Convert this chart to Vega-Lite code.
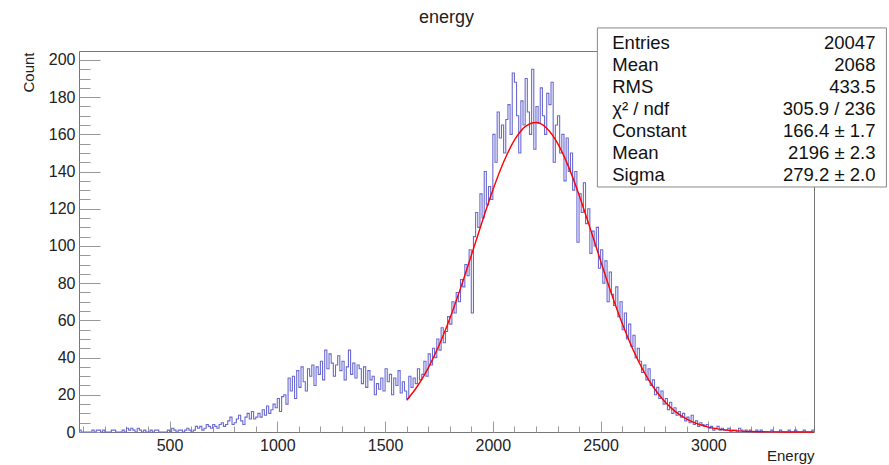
{
  "$schema": "https://vega.github.io/schema/vega-lite/v6.json",
  "width": 735,
  "height": 381,
  "autosize": {"type": "none"},
  "padding": {"left": 79, "top": 51, "right": 75, "bottom": 33},
  "background": "white",
  "title": {"text": "energy", "fontSize": 18, "font": "Liberation Sans", "fontWeight": "normal", "color": "#222", "anchor": "middle", "offset": 0},
  "datasets": {
    "hist": [
      {"e":80,"n":1},{"e":90,"n":0},{"e":100,"n":0},{"e":110,"n":0},{"e":120,"n":0},{"e":130,"n":0},{"e":140,"n":1},{"e":150,"n":0},{"e":160,"n":1},{"e":170,"n":1},
      {"e":180,"n":0},{"e":190,"n":1},{"e":200,"n":0},{"e":210,"n":0},{"e":220,"n":0},{"e":230,"n":1},{"e":240,"n":1},{"e":250,"n":0},{"e":260,"n":0},{"e":270,"n":0},
      {"e":280,"n":1},{"e":290,"n":0},{"e":300,"n":2},{"e":310,"n":1},{"e":320,"n":2},{"e":330,"n":1},{"e":340,"n":0},{"e":350,"n":2},{"e":360,"n":1},{"e":370,"n":0},
      {"e":380,"n":1},{"e":390,"n":0},{"e":400,"n":0},{"e":410,"n":1},{"e":420,"n":0},{"e":430,"n":1},{"e":440,"n":1},{"e":450,"n":0},{"e":460,"n":0},{"e":470,"n":0},
      {"e":480,"n":0},{"e":490,"n":1},{"e":500,"n":0},{"e":510,"n":2},{"e":520,"n":1},{"e":530,"n":0},{"e":540,"n":1},{"e":550,"n":1},{"e":560,"n":0},{"e":570,"n":1},
      {"e":580,"n":2},{"e":590,"n":1},{"e":600,"n":0},{"e":610,"n":1},{"e":620,"n":3},{"e":630,"n":2},{"e":640,"n":3},{"e":650,"n":1},{"e":660,"n":2},{"e":670,"n":4},
      {"e":680,"n":3},{"e":690,"n":2},{"e":700,"n":4},{"e":710,"n":3},{"e":720,"n":2},{"e":730,"n":4},{"e":740,"n":5},{"e":750,"n":3},{"e":760,"n":4},{"e":770,"n":6},
      {"e":780,"n":8},{"e":790,"n":4},{"e":800,"n":5},{"e":810,"n":7},{"e":820,"n":9},{"e":830,"n":6},{"e":840,"n":4},{"e":850,"n":8},{"e":860,"n":10},{"e":870,"n":7},
      {"e":880,"n":11},{"e":890,"n":7},{"e":900,"n":8},{"e":910,"n":10},{"e":920,"n":8},{"e":930,"n":12},{"e":940,"n":9},{"e":950,"n":14},{"e":960,"n":10},{"e":970,"n":12},
      {"e":980,"n":15},{"e":990,"n":13},{"e":1000,"n":18},{"e":1010,"n":11},{"e":1020,"n":19},{"e":1030,"n":20},{"e":1040,"n":15},{"e":1050,"n":29},{"e":1060,"n":22},{"e":1070,"n":30},
      {"e":1080,"n":18},{"e":1090,"n":33},{"e":1100,"n":24},{"e":1110,"n":35},{"e":1120,"n":27},{"e":1130,"n":22},{"e":1140,"n":34},{"e":1150,"n":30},{"e":1160,"n":36},{"e":1170,"n":25},
      {"e":1180,"n":35},{"e":1190,"n":31},{"e":1200,"n":38},{"e":1210,"n":28},{"e":1220,"n":44},{"e":1230,"n":34},{"e":1240,"n":42},{"e":1250,"n":37},{"e":1260,"n":30},{"e":1270,"n":36},
      {"e":1280,"n":41},{"e":1290,"n":33},{"e":1300,"n":38},{"e":1310,"n":28},{"e":1320,"n":35},{"e":1330,"n":44},{"e":1340,"n":31},{"e":1350,"n":37},{"e":1360,"n":29},{"e":1370,"n":36},
      {"e":1380,"n":34},{"e":1390,"n":26},{"e":1400,"n":35},{"e":1410,"n":24},{"e":1420,"n":33},{"e":1430,"n":28},{"e":1440,"n":30},{"e":1450,"n":20},{"e":1460,"n":26},{"e":1470,"n":23},
      {"e":1480,"n":29},{"e":1490,"n":22},{"e":1500,"n":34},{"e":1510,"n":27},{"e":1520,"n":31},{"e":1530,"n":20},{"e":1540,"n":29},{"e":1550,"n":25},{"e":1560,"n":33},{"e":1570,"n":21},
      {"e":1580,"n":27},{"e":1590,"n":22},{"e":1600,"n":18},{"e":1610,"n":30},{"e":1620,"n":24},{"e":1630,"n":29},{"e":1640,"n":26},{"e":1650,"n":34},{"e":1660,"n":28},{"e":1670,"n":31},
      {"e":1680,"n":38},{"e":1690,"n":30},{"e":1700,"n":42},{"e":1710,"n":36},{"e":1720,"n":45},{"e":1730,"n":40},{"e":1740,"n":50},{"e":1750,"n":44},{"e":1760,"n":56},{"e":1770,"n":48},
      {"e":1780,"n":54},{"e":1790,"n":62},{"e":1800,"n":58},{"e":1810,"n":70},{"e":1820,"n":64},{"e":1830,"n":75},{"e":1840,"n":70},{"e":1850,"n":82},{"e":1860,"n":78},{"e":1870,"n":90},
      {"e":1880,"n":84},{"e":1890,"n":98},{"e":1900,"n":64},{"e":1910,"n":105},{"e":1920,"n":118},{"e":1930,"n":110},{"e":1940,"n":128},{"e":1950,"n":115},{"e":1960,"n":140},{"e":1970,"n":122},
      {"e":1980,"n":132},{"e":1990,"n":125},{"e":2000,"n":160},{"e":2010,"n":145},{"e":2020,"n":172},{"e":2030,"n":158},{"e":2040,"n":165},{"e":2050,"n":150},{"e":2060,"n":168},{"e":2070,"n":176},
      {"e":2080,"n":160},{"e":2090,"n":193},{"e":2100,"n":188},{"e":2110,"n":170},{"e":2120,"n":150},{"e":2130,"n":178},{"e":2140,"n":165},{"e":2150,"n":190},{"e":2160,"n":172},{"e":2170,"n":160},
      {"e":2180,"n":195},{"e":2190,"n":152},{"e":2200,"n":175},{"e":2210,"n":166},{"e":2220,"n":185},{"e":2230,"n":170},{"e":2240,"n":160},{"e":2250,"n":182},{"e":2260,"n":176},{"e":2270,"n":188},
      {"e":2280,"n":145},{"e":2290,"n":165},{"e":2300,"n":170},{"e":2310,"n":150},{"e":2320,"n":160},{"e":2330,"n":135},{"e":2340,"n":158},{"e":2350,"n":140},{"e":2360,"n":150},{"e":2370,"n":130},
      {"e":2380,"n":140},{"e":2390,"n":102},{"e":2400,"n":128},{"e":2410,"n":118},{"e":2420,"n":134},{"e":2430,"n":112},{"e":2440,"n":120},{"e":2450,"n":96},{"e":2460,"n":108},{"e":2470,"n":100},
      {"e":2480,"n":110},{"e":2490,"n":88},{"e":2500,"n":98},{"e":2510,"n":80},{"e":2520,"n":92},{"e":2530,"n":70},{"e":2540,"n":86},{"e":2550,"n":74},{"e":2560,"n":68},{"e":2570,"n":78},
      {"e":2580,"n":62},{"e":2590,"n":70},{"e":2600,"n":55},{"e":2610,"n":64},{"e":2620,"n":50},{"e":2630,"n":58},{"e":2640,"n":46},{"e":2650,"n":52},{"e":2660,"n":40},{"e":2670,"n":45},
      {"e":2680,"n":38},{"e":2690,"n":32},{"e":2700,"n":36},{"e":2710,"n":28},{"e":2720,"n":34},{"e":2730,"n":25},{"e":2740,"n":28},{"e":2750,"n":20},{"e":2760,"n":24},{"e":2770,"n":18},
      {"e":2780,"n":22},{"e":2790,"n":15},{"e":2800,"n":18},{"e":2810,"n":12},{"e":2820,"n":16},{"e":2830,"n":10},{"e":2840,"n":13},{"e":2850,"n":9},{"e":2860,"n":11},{"e":2870,"n":8},
      {"e":2880,"n":10},{"e":2890,"n":6},{"e":2900,"n":8},{"e":2910,"n":5},{"e":2920,"n":9},{"e":2930,"n":4},{"e":2940,"n":6},{"e":2950,"n":3},{"e":2960,"n":5},{"e":2970,"n":4},
      {"e":2980,"n":3},{"e":2990,"n":4},{"e":3000,"n":2},{"e":3010,"n":3},{"e":3020,"n":1},{"e":3030,"n":2},{"e":3040,"n":3},{"e":3050,"n":1},{"e":3060,"n":2},{"e":3070,"n":1},
      {"e":3080,"n":1},{"e":3090,"n":2},{"e":3100,"n":0},{"e":3110,"n":1},{"e":3120,"n":1},{"e":3130,"n":0},{"e":3140,"n":2},{"e":3150,"n":1},{"e":3160,"n":0},{"e":3170,"n":1},
      {"e":3180,"n":0},{"e":3190,"n":1},{"e":3200,"n":0},{"e":3210,"n":0},{"e":3220,"n":1},{"e":3230,"n":0},{"e":3240,"n":1},{"e":3250,"n":0},{"e":3260,"n":0},{"e":3270,"n":0},
      {"e":3280,"n":0},{"e":3290,"n":1},{"e":3300,"n":0},{"e":3310,"n":0},{"e":3320,"n":0},{"e":3330,"n":1},{"e":3340,"n":0},{"e":3350,"n":0},{"e":3360,"n":0},{"e":3370,"n":1},
      {"e":3380,"n":0},{"e":3390,"n":0},{"e":3400,"n":1},{"e":3410,"n":0},{"e":3420,"n":0},{"e":3430,"n":0},{"e":3440,"n":1},{"e":3450,"n":0},{"e":3460,"n":0},{"e":3470,"n":0},
      {"e":3480,"n":1},{"e":3490,"n":1}
    ],
    "fit": [
      {"e":1600,"f":17.05},{"e":1650,"f":24.59},{"e":1700,"f":34.35},{"e":1750,"f":46.46},{"e":1800,"f":60.86},{"e":1850,"f":77.21},{"e":1900,"f":94.86},{"e":1950,"f":112.87},
      {"e":2000,"f":130.06},{"e":2050,"f":145.14},{"e":2100,"f":156.85},{"e":2150,"f":164.16},{"e":2200,"f":166.38},{"e":2250,"f":163.32},{"e":2300,"f":155.25},{"e":2350,"f":142.92},
      {"e":2400,"f":127.42},{"e":2450,"f":110.01},{"e":2500,"f":91.99},{"e":2550,"f":74.49},{"e":2600,"f":58.41},{"e":2650,"f":44.36},{"e":2700,"f":32.63},{"e":2750,"f":23.24},
      {"e":2800,"f":16.03},{"e":2850,"f":10.71},{"e":2900,"f":6.92},{"e":2950,"f":4.34},{"e":3000,"f":2.63},{"e":3050,"f":1.55},{"e":3100,"f":0.88},{"e":3150,"f":0.49},
      {"e":3200,"f":0.26},{"e":3300,"f":0.07},{"e":3400,"f":0.01},{"e":3490,"f":0.0}
    ],
    "stats": [
      {"row":0,"label":"Entries","value":"20047"},
      {"row":1,"label":"Mean","value":"2068"},
      {"row":2,"label":"RMS","value":"433.5"},
      {"row":3,"label":"χ² / ndf","value":"305.9 / 236"},
      {"row":4,"label":"Constant","value":"166.4 ± 1.7"},
      {"row":5,"label":"Mean","value":"2196 ± 2.3"},
      {"row":6,"label":"Sigma","value":"279.2 ± 2.0"}
    ]
  },
  "resolve": {"axis": {"x": "independent", "y": "independent"}},
  "layer": [
    {
      "data": {"name": "hist"},
      "mark": {"type": "line", "interpolate": "step-after", "color": "#6a6ad2", "strokeWidth": 1.1},
      "encoding": {
        "x": {"field": "e", "type": "quantitative", "scale": {"domain": [80, 3490], "nice": false, "zero": false},
          "axis": {"orient": "bottom", "values": [500, 1000, 1500, 2000, 2500, 3000], "format": "d", "ticks": false, "labelPadding": 5, "labelFontSize": 16, "title": "Energy", "titleX": 735, "titleY": 28, "titleAlign": "right", "titleBaseline": "alphabetic", "titleAnchor": "end"}},
        "y": {"field": "n", "type": "quantitative", "scale": {"domain": [0, 204.8], "nice": false},
          "axis": {"orient": "left", "values": [0, 20, 40, 60, 80, 100, 120, 140, 160, 180, 200], "format": "d", "ticks": false, "labelPadding": 4, "labelFontSize": 16, "title": "Count", "titleX": -46, "titleY": 1, "titleAngle": 270, "titleAlign": "right", "titleBaseline": "alphabetic"}}
      }
    },
    {
      "data": {"name": "fit"},
      "mark": {"type": "line", "interpolate": "monotone", "color": "#ff0000", "strokeWidth": 1.4},
      "encoding": {
        "x": {"field": "e", "type": "quantitative", "scale": {"domain": [80, 3490], "nice": false, "zero": false},
          "axis": {"orient": "bottom", "offset": -11, "values": [500, 1000, 1500, 2000, 2500, 3000], "labels": false, "tickSize": 11, "title": null}},
        "y": {"field": "f", "type": "quantitative", "scale": {"domain": [0, 204.8], "nice": false},
          "axis": {"orient": "left", "offset": -21, "values": [0, 20, 40, 60, 80, 100, 120, 140, 160, 180, 200], "labels": false, "tickSize": 21, "title": null}}
      }
    },
    {
      "data": {"values": [{}]},
      "mark": {"type": "rect", "fill": "white", "stroke": "#888", "strokeWidth": 1, "clip": false},
      "encoding": {
        "x": {"datum": 2485, "type": "quantitative", "scale": {"domain": [80, 3490], "nice": false, "zero": false},
          "axis": {"orient": "bottom", "offset": -6, "values": [100,200,300,400,600,700,800,900,1100,1200,1300,1400,1600,1700,1800,1900,2100,2200,2300,2400,2600,2700,2800,2900,3100,3200,3300,3400], "labels": false, "tickSize": 6, "title": null}},
        "x2": {"datum": 3826},
        "y": {"datum": 217.2, "type": "quantitative", "scale": {"domain": [0, 204.8], "nice": false},
          "axis": {"orient": "left", "offset": -11, "values": [5,10,15,25,30,35,45,50,55,65,70,75,85,90,95,105,110,115,125,130,135,145,150,155,165,170,175,185,190,195], "labels": false, "tickSize": 11, "title": null}},
        "y2": {"datum": 131.7}
      }
    },
    {
      "data": {"name": "stats"},
      "mark": {"type": "text", "align": "left", "baseline": "middle", "font": "Liberation Sans", "fontSize": 18.5, "color": "#111", "clip": false},
      "encoding": {
        "x": {"datum": 2554, "type": "quantitative", "axis": null},
        "y": {"datum": 209.3, "type": "quantitative", "axis": null},
        "yOffset": {"field": "row", "type": "quantitative", "scale": {"domain": [0, 6], "range": [0, 132], "zero": false, "nice": false}},
        "text": {"field": "label"}
      }
    },
    {
      "data": {"name": "stats"},
      "mark": {"type": "text", "align": "right", "baseline": "middle", "font": "Liberation Sans", "fontSize": 18.5, "color": "#111", "clip": false},
      "encoding": {
        "x": {"datum": 3775, "type": "quantitative", "axis": null},
        "y": {"datum": 209.3, "type": "quantitative", "axis": null},
        "yOffset": {"field": "row", "type": "quantitative", "scale": {"domain": [0, 6], "range": [0, 132], "zero": false, "nice": false}},
        "text": {"field": "value"}
      }
    }
  ],
  "config": {
    "view": {"stroke": "#777", "strokeWidth": 1},
    "font": "Liberation Sans",
    "axis": {"labelFont": "Liberation Sans", "labelColor": "#222", "titleFont": "Liberation Sans", "titleFontSize": 15, "titleFontWeight": "normal", "titleColor": "#222", "grid": false, "domain": false, "tickColor": "#999", "tickWidth": 1}
  }
}
